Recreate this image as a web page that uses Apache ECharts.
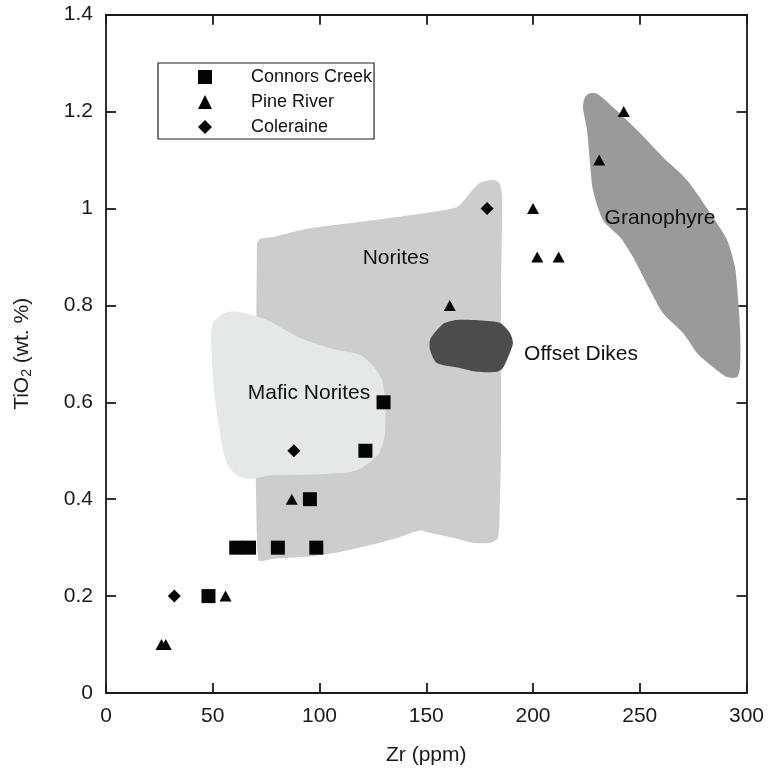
<!DOCTYPE html>
<html>
<head>
<meta charset="utf-8">
<script src="https://cdn.jsdelivr.net/npm/echarts@6/dist/echarts.min.js"></script>
<style>
  html, body { margin: 0; padding: 0; background: #ffffff; }
  #chart { width: 772px; height: 774px; }
</style>
</head>
<body>
<div id="chart"></div>
<script>
// Sample analyses: [Zr (ppm), TiO2 (wt. %)]
const connorsCreek = [[48, 0.2], [61, 0.3], [67, 0.3], [80.5, 0.3], [98.5, 0.3], [95.5, 0.4], [121.5, 0.5], [130, 0.6]];
const pineRiver = [[26, 0.1], [28, 0.1], [56, 0.2], [87, 0.4], [161, 0.8], [200, 1.0], [202, 0.9], [212, 0.9], [231, 1.1], [242.5, 1.2]];
const coleraine = [[32, 0.2], [88, 0.5], [178.5, 1.0]];

// Compositional fields (outlines in Zr / TiO2 units)
const noritesField = [
  [71.2, 0.275], [70.7, 0.925], [72.1, 0.937], [78.2, 0.941], [94.1, 0.958], [122.2, 0.974],
  [150.4, 0.991], [164.4, 1.003], [170.5, 1.032], [175.2, 1.053], [181.3, 1.059], [184.5, 1.051],
  [185.5, 1.017], [185.0, 0.811], [185.0, 0.502], [184.5, 0.398], [183.6, 0.320], [179.9, 0.310],
  [171.9, 0.310], [161.1, 0.322], [150.4, 0.332], [147.1, 0.336], [137.7, 0.322], [128.3, 0.310],
  [109.6, 0.291], [94.1, 0.281], [78.2, 0.277]
];
const maficNoritesField = [
  [52.0, 0.774], [55.3, 0.784], [60.4, 0.788], [75.4, 0.770], [90.9, 0.733], [106.3, 0.710],
  [119.0, 0.698], [125.1, 0.675], [129.3, 0.646], [130.7, 0.605], [130.7, 0.537], [128.3, 0.497],
  [123.7, 0.477], [117.6, 0.460], [109.6, 0.454], [90.9, 0.450], [78.2, 0.450], [67.4, 0.442],
  [61.8, 0.448], [57.1, 0.469], [54.3, 0.512], [52.5, 0.563], [50.6, 0.625], [49.6, 0.687],
  [49.2, 0.739], [50.1, 0.764]
];
const offsetDikesField = [
  [158.8, 0.764], [164.4, 0.770], [178.5, 0.768], [184.5, 0.764], [189.2, 0.743], [190.6, 0.722],
  [188.3, 0.693], [185.9, 0.671], [183.1, 0.663], [173.8, 0.663], [165.8, 0.671], [155.0, 0.681],
  [151.8, 0.708], [151.8, 0.729], [155.0, 0.749]
];
const granophyreField = [
  [224.4, 1.230], [226.7, 1.238], [230.4, 1.236], [237.5, 1.209], [248.7, 1.162], [260.9, 1.106],
  [272.1, 1.059], [284.3, 0.982], [290.9, 0.935], [294.6, 0.879], [296.0, 0.817], [297.0, 0.749],
  [297.0, 0.673], [295.6, 0.652], [290.9, 0.652], [284.3, 0.673], [276.8, 0.702], [270.3, 0.743],
  [260.9, 0.784], [254.8, 0.832], [246.8, 0.900], [240.7, 0.941], [232.8, 0.976], [228.1, 1.038],
  [226.7, 1.094], [225.3, 1.162], [223.4, 1.209]
];

const fieldNames = ['Norites', 'Mafic Norites', 'Offset Dikes', 'Granophyre'];
const fieldOutlines = [noritesField, maficNoritesField, offsetDikesField, granophyreField];
const fieldColors = ['#cdcdcd', '#e6e7e7', '#4c4c4c', '#9a9a9a'];
const fieldLabelPos = [[135.8, 0.898], [95.1, 0.619], [222.5, 0.700], [259.5, 0.980]];

const FONT = 'Liberation Sans, Arial, Helvetica, sans-serif';
const INK = '#1a1a1a';

const chart = echarts.init(document.getElementById('chart'), null, { renderer: 'canvas' });

const axisLine = { show: true, onZero: false, lineStyle: { color: INK, width: 1.8 } };
const axisTick = { show: true, inside: true, length: 10, lineStyle: { color: INK, width: 1.8 } };
const markStyle = { color: '#050505', opacity: 1 };

chart.setOption({
  animation: false,
  backgroundColor: '#ffffff',
  grid: { left: 106, right: 25.5, top: 14.7, bottom: 81, containLabel: false },
  legend: {
    left: 158, top: 63, orient: 'vertical', selectedMode: false,
    data: [
      { name: 'Connors Creek', icon: 'rect' },
      { name: 'Pine River', icon: 'triangle' },
      { name: 'Coleraine', icon: 'diamond' }
    ],
    itemWidth: 14, itemHeight: 14, itemGap: 7,
    padding: [5, 2, 3, 40],
    borderColor: '#222', borderWidth: 1.2, borderRadius: 0,
    textStyle: { fontFamily: FONT, fontSize: 18, color: '#111', padding: [0, 0, 0, 34] }
  },
  xAxis: [
    {
      type: 'value', position: 'bottom', min: 0, max: 300, interval: 50,
      axisLine, axisTick, splitLine: { show: false },
      axisLabel: { fontFamily: FONT, fontSize: 21, color: '#1a1a1a', margin: 13 },
      name: 'Zr (ppm)', nameLocation: 'middle', nameGap: 52,
      nameTextStyle: { fontFamily: FONT, fontSize: 21, color: '#1a1a1a' }
    },
    {
      type: 'value', position: 'top', min: 0, max: 300, interval: 50,
      axisLine, axisTick, splitLine: { show: false }, axisLabel: { show: false }
    }
  ],
  yAxis: [
    {
      type: 'value', position: 'left', min: 0, max: 1.4, interval: 0.2,
      axisLine, axisTick, splitLine: { show: false },
      axisLabel: { fontFamily: FONT, fontSize: 21, color: '#1a1a1a', margin: 13 },
      name: 'TiO{sub|2} (wt. %)', nameLocation: 'middle', nameGap: 72,
      nameTextStyle: {
        fontFamily: FONT, fontSize: 21, color: '#1a1a1a', lineHeight: 24,
        rich: { sub: { fontFamily: FONT, fontSize: 14, color: '#1a1a1a', lineHeight: 8, verticalAlign: 'bottom' } }
      }
    },
    {
      type: 'value', position: 'right', min: 0, max: 1.4, interval: 0.2,
      axisLine, axisTick, splitLine: { show: false }, axisLabel: { show: false }
    }
  ],
  series: [
    {
      // shaded fields, drawn beneath the samples
      type: 'custom', name: 'fields', coordinateSystem: 'cartesian2d',
      xAxisIndex: 0, yAxisIndex: 0, z: 1, silent: true,
      data: fieldLabelPos,
      renderItem: function (params, api) {
        const i = params.dataIndex;
        const pts = fieldOutlines[i].map(function (p) { return api.coord(p); });
        return {
          type: 'polygon',
          shape: { points: pts, smooth: 0.25 },
          style: { fill: fieldColors[i], stroke: null }
        };
      }
    },
    {
      // field names
      type: 'custom', name: 'field labels', coordinateSystem: 'cartesian2d',
      xAxisIndex: 0, yAxisIndex: 0, z: 2, silent: true,
      data: fieldLabelPos,
      renderItem: function (params, api) {
        const c = api.coord([api.value(0), api.value(1)]);
        return {
          type: 'text',
          x: c[0], y: c[1],
          style: {
            text: fieldNames[params.dataIndex],
            fontFamily: FONT, fontSize: 21, fill: '#111',
            align: 'center', verticalAlign: 'middle'
          }
        };
      }
    },
    {
      name: 'Connors Creek', type: 'scatter', symbol: 'rect', symbolSize: 14,
      itemStyle: markStyle, data: connorsCreek, z: 5
    },
    {
      name: 'Pine River', type: 'scatter', symbol: 'triangle', symbolSize: [12, 11],
      itemStyle: markStyle, data: pineRiver, z: 5
    },
    {
      name: 'Coleraine', type: 'scatter', symbol: 'diamond', symbolSize: 13,
      itemStyle: markStyle, data: coleraine, z: 5
    }
  ]
});
</script>
</body>
</html>
